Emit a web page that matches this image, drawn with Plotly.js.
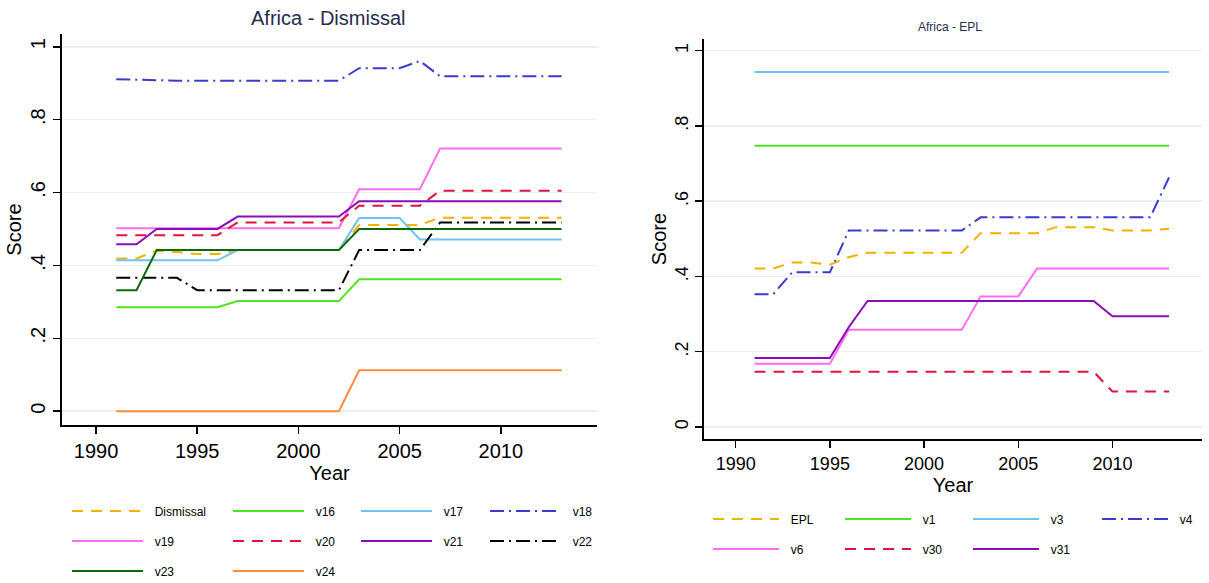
<!DOCTYPE html>
<html>
<head>
<meta charset="utf-8">
<script src="https://cdn.plot.ly/plotly-3.0.1.min.js"></script>
<style>
html,body{margin:0;padding:0;background:#fff;}
#chart{width:1209px;height:583px;}
</style>
</head>
<body>
<div id="chart"></div>
<script>
// ---------- data ----------
const years = [1991,1992,1993,1994,1995,1996,1997,1998,1999,2000,2001,2002,2003,2004,2005,2006,2007,2008,2009,2010,2011,2012,2013];

// Left panel: Africa - Dismissal
const dismissal = [0.419,0.419,0.440,0.437,0.431,0.431,0.442,0.442,0.442,0.442,0.442,0.442,0.511,0.511,0.511,0.511,0.531,0.531,0.531,0.531,0.531,0.531,0.531];
const v16 = [0.285,0.285,0.285,0.285,0.285,0.285,0.302,0.302,0.302,0.302,0.302,0.302,0.362,0.362,0.362,0.362,0.362,0.362,0.362,0.362,0.362,0.362,0.362];
const v17 = [0.414,0.414,0.414,0.414,0.414,0.414,0.442,0.442,0.442,0.442,0.442,0.442,0.530,0.530,0.530,0.471,0.471,0.471,0.471,0.471,0.471,0.471,0.471];
const v18 = [0.911,0.909,0.907,0.907,0.907,0.907,0.907,0.907,0.907,0.907,0.907,0.907,0.941,0.941,0.941,0.961,0.919,0.919,0.919,0.919,0.919,0.919,0.919];
const v19 = [0.502,0.502,0.502,0.502,0.502,0.502,0.502,0.502,0.502,0.502,0.502,0.502,0.609,0.609,0.609,0.609,0.721,0.721,0.721,0.721,0.721,0.721,0.721];
const v20 = [0.483,0.483,0.483,0.483,0.483,0.483,0.518,0.518,0.518,0.518,0.518,0.518,0.564,0.564,0.564,0.564,0.605,0.605,0.605,0.605,0.605,0.605,0.605];
const v21 = [0.458,0.458,0.500,0.500,0.500,0.500,0.534,0.534,0.534,0.534,0.534,0.534,0.576,0.576,0.576,0.576,0.576,0.576,0.576,0.576,0.576,0.576,0.576];
const v22 = [0.366,0.366,0.366,0.366,0.332,0.332,0.332,0.332,0.332,0.332,0.332,0.332,0.442,0.442,0.442,0.442,0.518,0.518,0.518,0.518,0.518,0.518,0.518];
const v23 = [0.332,0.332,0.442,0.442,0.442,0.442,0.442,0.442,0.442,0.442,0.442,0.442,0.500,0.500,0.500,0.500,0.500,0.500,0.500,0.500,0.500,0.500,0.500];
const v24 = [0,0,0,0,0,0,0,0,0,0,0,0,0.112,0.112,0.112,0.112,0.112,0.112,0.112,0.112,0.112,0.112,0.112];

// Right panel: Africa - EPL
const epl = [0.421,0.421,0.437,0.437,0.431,0.451,0.463,0.463,0.463,0.463,0.463,0.463,0.515,0.515,0.515,0.515,0.531,0.531,0.531,0.522,0.522,0.522,0.527];
const v1  = [0.747,0.747,0.747,0.747,0.747,0.747,0.747,0.747,0.747,0.747,0.747,0.747,0.747,0.747,0.747,0.747,0.747,0.747,0.747,0.747,0.747,0.747,0.747];
const v3  = [0.943,0.943,0.943,0.943,0.943,0.943,0.943,0.943,0.943,0.943,0.943,0.943,0.943,0.943,0.943,0.943,0.943,0.943,0.943,0.943,0.943,0.943,0.943];
const v4  = [0.353,0.353,0.411,0.411,0.411,0.522,0.522,0.522,0.522,0.522,0.522,0.522,0.557,0.557,0.557,0.557,0.557,0.557,0.557,0.557,0.557,0.557,0.663];
const v6  = [0.168,0.168,0.168,0.168,0.168,0.258,0.258,0.258,0.258,0.258,0.258,0.258,0.347,0.347,0.347,0.421,0.421,0.421,0.421,0.421,0.421,0.421,0.421];
const v30 = [0.147,0.147,0.147,0.147,0.147,0.147,0.147,0.147,0.147,0.147,0.147,0.147,0.147,0.147,0.147,0.147,0.147,0.147,0.147,0.094,0.094,0.094,0.094];
const v31 = [0.183,0.183,0.183,0.183,0.183,0.265,0.335,0.335,0.335,0.335,0.335,0.335,0.335,0.335,0.335,0.335,0.335,0.335,0.335,0.294,0.294,0.294,0.294];

const xTicks = [1990,1995,2000,2005,2010];
const yTicks = [0,0.2,0.4,0.6,0.8,1];
const yTickText = ['0','.2','.4','.6','.8','1'];

// ---------- styles ----------
const C = {
  orange:'#f5b000', green:'#4ee51f', sky:'#6cc4f5', blue:'#3a3acf', pink:'#ff6cf5',
  red:'#e2123a', purple:'#8a0cb5', black:'#000000', dgreen:'#0b690b', coral:'#ff8a3d'
};
const DASH = '11px,8px';
const DASHDOT = '14px,5px,2px,5px';
const GAP = '\u00a0\u00a0';

const W = 1209, H = 583;
const px = v => v / W;
const py = v => 1 - v / H;
const FONT = 'Liberation Sans, Arial, sans-serif';

// legend grid (pixel positions of legend columns / rows)
const leftCols = [67, 228, 356, 485], leftRows = [511, 541, 571];
const rightCols = [708, 840, 968, 1097], rightRows = [519, 549];

const layout = {
  width:W, height:H,
  margin:{l:0, r:0, t:0, b:0, autoexpand:false},
  paper_bgcolor:'#fff', plot_bgcolor:'#fff',
  font:{family:FONT, color:'#000'},
  showlegend:true
};

const traces = [];
let legN = 0;
function addTrace(name, y, color, dash, xa, ya, lx, ly, iw){
  legN += 1;
  const key = legN === 1 ? 'legend' : 'legend' + legN;
  layout[key] = {
    orientation:'h', x:px(lx), y:py(ly), xanchor:'left', yanchor:'middle',
    itemwidth:iw, font:{family:FONT, size:12, color:'#000'},
    bgcolor:'rgba(0,0,0,0)', borderwidth:0
  };
  traces.push({
    type:'scatter', mode:'lines', x:years, y:y, name:GAP + name,
    xaxis:xa, yaxis:ya, legend:key,
    line:{color:color, width:2, dash:dash},
    hoverinfo:'x+y+name'
  });
}
const L = (n, y, c, d, i) => addTrace(n, y, c, d, 'x', 'y', leftCols[i % 4], leftRows[Math.floor(i / 4)], 71);
const R = (n, y, c, d, i) => addTrace(n, y, c, d, 'x2', 'y2', rightCols[i % 4], rightRows[Math.floor(i / 4)], 66);

L('Dismissal', dismissal, C.orange, DASH, 0);
L('v16', v16, C.green, 'solid', 1);
L('v17', v17, C.sky, 'solid', 2);
L('v18', v18, C.blue, DASHDOT, 3);
L('v19', v19, C.pink, 'solid', 4);
L('v20', v20, C.red, DASH, 5);
L('v21', v21, C.purple, 'solid', 6);
L('v22', v22, C.black, DASHDOT, 7);
L('v23', v23, C.dgreen, 'solid', 8);
L('v24', v24, C.coral, 'solid', 9);

R('EPL', epl, C.orange, DASH, 0);
R('v1', v1, C.green, 'solid', 1);
R('v3', v3, C.sky, 'solid', 2);
R('v4', v4, C.blue, DASHDOT, 3);
R('v6', v6, C.pink, 'solid', 4);
R('v30', v30, C.red, DASH, 5);
R('v31', v31, C.purple, 'solid', 6);

function xAxis(d0, d1, anchor, size, titleStandoff){
  return {
    domain:[px(d0), px(d1)], anchor:anchor, range:[1988.32, 2014.75],
    tickmode:'array', tickvals:xTicks, ticktext:xTicks.map(String),
    ticks:'outside', ticklen:7, tickwidth:1.5, tickcolor:'#000',
    showline:true, linecolor:'#000', linewidth:2,
    showgrid:false, zeroline:false,
    tickfont:{family:FONT, size:size, color:'#000'},
    title:{text:'Year', font:{family:FONT, size:20, color:'#000'}, standoff:titleStandoff}
  };
}
function yAxis(d0, d1, anchor, r0, r1, size, titleStandoff){
  return {
    domain:[py(d1), py(d0)], anchor:anchor, range:[r0, r1],
    tickmode:'array', tickvals:yTicks, ticktext:yTickText, tickangle:-90,
    ticks:'outside', ticklen:7, tickwidth:1.5, tickcolor:'#000',
    showline:true, linecolor:'#000', linewidth:2,
    showgrid:true, gridcolor:'#e9f0f2', gridwidth:1.5, zeroline:false,
    tickfont:{family:FONT, size:size, color:'#000'},
    title:{text:'Score', font:{family:FONT, size:20, color:'#000'}, standoff:titleStandoff}
  };
}

layout.xaxis  = xAxis(62, 597, 'y', 20, 4);
layout.yaxis  = yAxis(34, 425, 'x', -0.038, 1.035, 20, 0);
layout.xaxis2 = xAxis(704, 1202, 'y2', 18, 4);
layout.yaxis2 = yAxis(39, 439, 'x2', -0.032, 1.031, 18, 0);
layout.annotations = [
  {text:'Africa - Dismissal', xref:'paper', yref:'paper', x:px(328), y:py(18),
   xanchor:'center', yanchor:'middle', showarrow:false,
   font:{family:FONT, size:20, color:'#1f2d4e'}},
  {text:'Africa - EPL', xref:'paper', yref:'paper', x:px(950), y:py(27),
   xanchor:'center', yanchor:'middle', showarrow:false,
   font:{family:FONT, size:12, color:'#1f2d4e'}}
];

Plotly.newPlot('chart', traces, layout, {displayModeBar:false, staticPlot:true});
</script>
</body>
</html>
